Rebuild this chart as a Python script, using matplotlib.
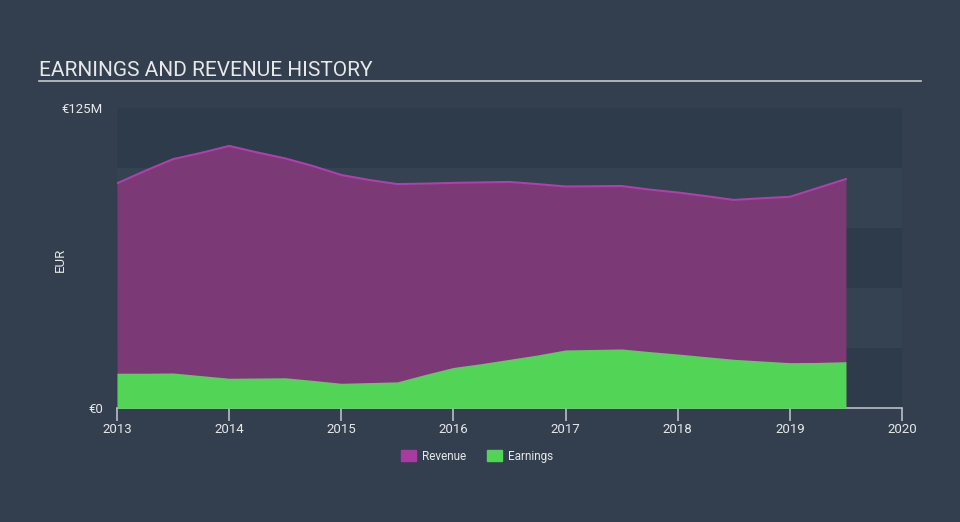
import matplotlib
matplotlib.use("Agg")
import matplotlib.pyplot as plt
from matplotlib.patches import Patch

# ---------------------------------------------------------------------------
# DATA (EUR millions, quarterly)
# ---------------------------------------------------------------------------
years = [2013.0, 2013.25, 2013.5, 2013.75, 2014.0, 2014.25, 2014.5, 2014.75,
         2015.0, 2015.25, 2015.5, 2015.75, 2016.0, 2016.25, 2016.5, 2016.75,
         2017.0, 2017.25, 2017.5, 2017.75, 2018.0, 2018.25, 2018.5, 2018.75,
         2019.0, 2019.25, 2019.5]
revenue = [93.6, 98.8, 103.7, 106.3, 109.2, 106.5, 104.0, 100.8,
           97.1, 95.0, 93.3, 93.5, 93.8, 94.0, 94.2, 93.3,
           92.3, 92.4, 92.5, 91.0, 89.8, 88.3, 86.7, 87.4,
           88.0, 91.7, 95.4]
earnings = [14.5, 14.5, 14.6, 13.5, 12.4, 12.5, 12.6, 11.5,
            10.3, 10.6, 10.9, 14.0, 16.9, 18.5, 20.3, 22.1,
            24.2, 24.4, 24.6, 23.5, 22.5, 21.4, 20.3, 19.6,
            18.9, 19.0, 19.3]
x_ticks = [2013, 2014, 2015, 2016, 2017, 2018, 2019, 2020]
y_ticks = [0, 125]
y_labels = ["€0", "€125M"]

# ---------------------------------------------------------------------------
# STYLE
# ---------------------------------------------------------------------------
BG = "#333f4e"
BAND_DARK = "#2d3b4a"
BAND_LIGHT = "#344251"
REV_FILL = "#7b3a76"
REV_LINE = "#b23dab"
REV_LEG = "#a73b9f"
EARN = "#52d556"
TEXT = "#e6e8ea"
AXIS = "#b9bfc6"

plt.rcParams["font.family"] = ["Roboto", "DejaVu Sans"]

fig = plt.figure(figsize=(9.6, 5.22), dpi=100, facecolor=BG)
ax = fig.add_axes([117 / 960, 1 - 408 / 522, 785 / 960, 300 / 522])
ax.set_facecolor(BG)

# alternating horizontal bands
for i in range(5):
    ax.axhspan(i * 25, (i + 1) * 25, color=BAND_DARK if i % 2 == 0 else BAND_LIGHT,
               lw=0, zorder=0)

ax.fill_between(years, 0, revenue, color=REV_FILL, lw=0, zorder=2)
ax.plot(years, revenue, color=REV_LINE, lw=1.5, zorder=3)
ax.fill_between(years, 0, earnings, color=EARN, lw=0, zorder=4)

ax.set_xlim(2013, 2020)
ax.set_ylim(0, 125)

for s in ["top", "right", "left"]:
    ax.spines[s].set_visible(False)
ax.spines["bottom"].set_color(AXIS)
ax.spines["bottom"].set_linewidth(1.2)

ax.set_xticks(x_ticks)
ax.set_xticklabels([str(t) for t in x_ticks])
ax.tick_params(axis="x", colors=AXIS, length=9, width=1.2, labelsize=9.5,
               labelcolor=TEXT, pad=2)
ax.set_yticks(y_ticks)
ax.set_yticklabels(y_labels)
ax.tick_params(axis="y", length=0, labelsize=9.5, labelcolor=TEXT, pad=10)

# axis name placed directly in figure coordinates
fig.text(60 / 960, 1 - 260 / 522, "EUR", color=TEXT, fontsize=9.5,
         rotation=90, ha="center", va="center")

# title + underline
fig.text(39 / 960, 1 - 76 / 522, "EARNINGS AND REVENUE HISTORY", color=TEXT,
         fontsize=15, ha="left", va="baseline")
fig.add_artist(plt.Line2D([39 / 960, 921 / 960], [1 - 81 / 522, 1 - 81 / 522],
                          color="#c3c7cc", lw=1.2))

handles = [Patch(color=REV_LEG, label="Revenue"), Patch(color=EARN, label="Earnings")]
leg = fig.legend(handles=handles, loc="center", bbox_to_anchor=(477 / 960, 1 - 456 / 522),
                 ncol=2, frameon=False, fontsize=8.5, handlelength=1.3,
                 handleheight=1.0, columnspacing=1.8, handletextpad=0.5)
for t in leg.get_texts():
    t.set_color(TEXT)

fig.savefig("out.png", dpi=100, facecolor=BG)
